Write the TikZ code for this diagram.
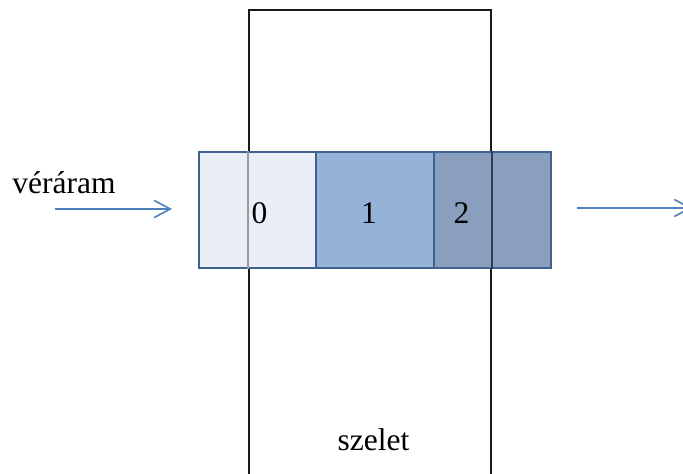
\documentclass[tikz,border=0pt]{standalone}
\usepackage{fontspec}
\setmainfont{Liberation Serif}
\usetikzlibrary{arrows.meta}
\definecolor{cellborder}{HTML}{3E6390}
\definecolor{fillA}{HTML}{E9EEF7}
\definecolor{fillB}{HTML}{95B3D7}
\definecolor{fillC}{HTML}{8A9FBD}
\definecolor{arrowblue}{HTML}{4F81BD}
\definecolor{lineA}{HTML}{9A9A9A}
\definecolor{lineC}{HTML}{2F3F55}
\tikzset{
  slicebox/.style={draw=black!90, line width=1.8pt, minimum width=242pt, minimum height=480pt, inner sep=0pt},
  cellbox/.style={draw=cellborder, line width=2.4pt, minimum height=116pt, inner sep=0pt},
  lbl/.style={font=\fontsize{31.5}{36}\selectfont, anchor=base, inner sep=0pt},
  flow/.style={draw=arrowblue, line width=1.6pt, -{Straight Barb[length=16pt,width=17pt,line width=1.6pt]}}
}
\begin{document}
\begin{tikzpicture}[x=1pt,y=-1pt]
\clip (0,0) rectangle (683,474);
\fill[white] (0,0) rectangle (683,474);
\node[slicebox] (sz) at (370,250) {};
\node[cellbox, fill=fillA, minimum width=117pt] (c0) at (257.5,210) {};
\node[cellbox, fill=fillB, minimum width=118pt] (c1) at (375,210) {};
\node[cellbox, fill=fillC, minimum width=117pt] (c2) at (492.5,210) {};
\draw[lineA, line width=1.5pt] (sz.west |- c0.north) -- (sz.west |- c0.south);
\draw[lineC, line width=1.5pt] (sz.east |- c2.north) -- (sz.east |- c2.south);
\node[lbl] (l0) at (259.5,223) {0};
\node[lbl] (l1) at (369,223) {1};
\node[lbl] (l2) at (461.5,223) {2};
\node[lbl] (ver) at (64,193) {véráram};
\node[lbl] (szl) at (373.5,450) {szelet};
\coordinate (inA) at (55,209);
\coordinate (inB) at (172,209);
\coordinate (outA) at (577,208);
\coordinate (outB) at (692,208);
\draw[flow] (inA) -- (inB);
\draw[flow] (outA) -- (outB);
\end{tikzpicture}
\end{document}
